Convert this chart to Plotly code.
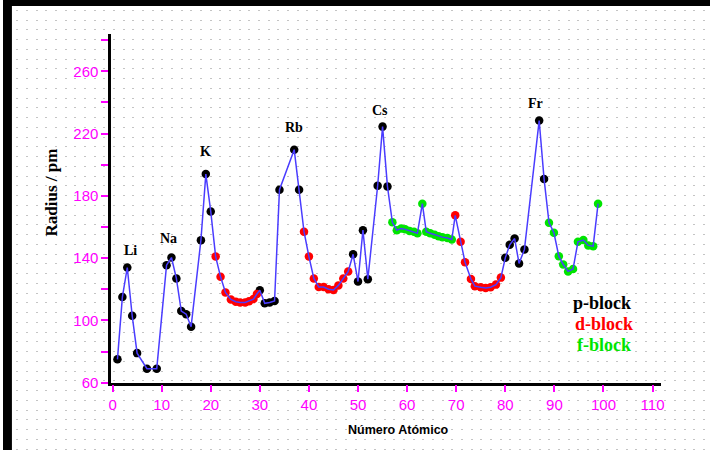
import plotly.graph_objects as go

W, H = 713, 450      # design size (reference picture)
FIG_H = 460          # figure height that fills the captured page

# ---- data ----
atomic_number = [1, 2, 3, 4, 5, 7, 9, 11, 12, 13, 14, 15, 16, 18, 19, 20,
                 21, 22, 23, 24.1, 25.1, 26, 27, 27.8, 28.7, 29.4,
                 30, 31, 32, 33, 34, 37, 38,
                 39, 40, 41, 42, 43, 44, 45, 46, 47, 48,
                 49, 50, 51, 52, 54, 55, 56,
                 57, 57.9, 58.8, 59.6, 60.5, 61.4, 62.1, 63.1, 63.9, 64.7, 65.6, 66.4, 67.2, 68.2, 69.1,
                 69.8, 70.9, 71.8, 73, 73.8, 75, 76, 77, 78.1, 79.1,
                 80, 80.9, 81.9, 82.8, 83.9, 86.9, 87.9,
                 88.9, 89.9, 90.9, 91.8, 92.8, 93.8, 94.8, 95.9, 96.9, 97.9, 98.9]
radius = [75, 115, 134, 103, 79, 69, 69, 135.5, 140.4, 127, 106, 104, 96, 151.5, 194, 170,
          141, 128, 118, 113.5, 112, 111.5, 111.5, 112.3, 113.7, 117,
          119.4, 111, 111.5, 112.5, 184, 209.7, 184,
          157, 141, 127, 121.5, 121.5, 120, 119.5, 122.5, 127, 131.5,
          142.5, 125, 158, 126.5, 186.5, 224.5, 186,
          163, 158, 159, 158.5, 157.5, 157, 156, 175, 157, 156, 155, 154, 153.5, 153, 152,
          167.5, 150.5, 137.4, 126.6, 122, 121.3, 120.8, 121.3, 123, 127.5,
          140.2, 148.6, 152.6, 136.6, 145.6, 228.4, 190.8,
          162.8, 156.3, 141.3, 135.9, 131.5, 133, 150.5, 151.6, 148.2, 147.7, 175]
block = (["p"] * 16 + ["d"] * 10 + ["p"] * 7 + ["d"] * 10 + ["p"] * 7
         + ["f"] * 15 + ["d"] * 10 + ["p"] * 7 + ["f"] * 11)

block_names = ["p-block", "d-block", "f-block"]
block_keys = ["p", "d", "f"]
block_colors = ["#000000", "#ff0000", "#00e400"]

element_labels = ["Li", "Na", "K", "Rb", "Cs", "Fr"]
element_label_z = [3, 12, 19, 37, 55, 86.9]

x_ticks = list(range(0, 111, 10))
y_ticks = list(range(60, 281, 20))
y_ticktext = [str(v) if (v - 60) % 40 == 0 else "" for v in y_ticks]

MAGENTA = "#ff00ff"
LINE_BLUE = "#4a3cff"


def py(v):
    """pixel row (from the top, design units) -> paper fraction"""
    return 1 - v / H


fig = go.Figure()

# empty trace to carry the dotted background grid axes
fig.add_trace(go.Scatter(x=[None], y=[None], xaxis="x", yaxis="y",
                         showlegend=False, hoverinfo="skip"))

for key, name, col in zip(block_keys, block_names, block_colors):
    xs = [a for a, b in zip(atomic_number, block) if b == key]
    ys = [r for r, b in zip(radius, block) if b == key]
    fig.add_trace(go.Scatter(x=xs, y=ys, mode="markers", name=name,
                             xaxis="x2", yaxis="y2",
                             marker=dict(color=col, size=8.5, line=dict(width=0)),
                             showlegend=False))

fig.add_trace(go.Scatter(x=atomic_number, y=radius, mode="lines",
                         xaxis="x2", yaxis="y2",
                         line=dict(color=LINE_BLUE, width=1.5),
                         showlegend=False, hoverinfo="skip"))

annotations = []
label_shift = {"Li": (3, 17), "Na": (-3, 19), "K": (0, 23), "Rb": (0, 22), "Cs": (-3, 16), "Fr": (-4, 17)}
for lab, z in zip(element_labels, element_label_z):
    r = radius[atomic_number.index(z)]
    dx, dy = label_shift[lab]
    annotations.append(dict(x=z, y=r, xref="x2", yref="y2", text="<b>%s</b>" % lab, showarrow=False,
                            xshift=dx, yshift=dy,
                            font=dict(family="Liberation Serif", size=14, color="black"),
                            xanchor="center", yanchor="middle"))

legend_pos = [(604.5, 302), (606.5, 323), (606, 343)]
for name, col, (px, pyv) in zip(block_names, block_colors, legend_pos):
    annotations.append(dict(x=px / W, y=py(pyv), xref="paper", yref="paper",
                            text="<b>%s</b>" % name, showarrow=False,
                            font=dict(family="Liberation Serif", size=18, color=col),
                            xanchor="center", yanchor="middle"))

annotations.append(dict(x=49 / W, y=py(192), xref="paper", yref="paper",
                        text="<b>Radius / pm</b>", showarrow=False, textangle=-90,
                        font=dict(family="Liberation Serif", size=17, color="black"),
                        xanchor="center", yanchor="middle"))
annotations.append(dict(x=399 / W, y=py(428), xref="paper", yref="paper",
                        text="<b>Número Atómico</b>", showarrow=False,
                        font=dict(family="Liberation Sans", size=12.5, color="black"),
                        xanchor="center", yanchor="middle"))

fig.update_layout(
    width=W, height=FIG_H, autosize=False,
    margin=dict(l=0, r=0, t=0, b=0, pad=0),
    paper_bgcolor="white", plot_bgcolor="rgba(0,0,0,0)",
    showlegend=False,
    xaxis=dict(domain=[0, 1], range=[0, W], showgrid=True, gridcolor="#c4c4c4",
               griddash="1px,8.75px", gridwidth=1.5, tick0=24.3, dtick=9.75,
               showticklabels=False, ticks="", zeroline=False, showline=False, fixedrange=True),
    yaxis=dict(domain=[0, 1], range=[0, H], showgrid=False, showticklabels=False,
               ticks="", zeroline=False, showline=False, fixedrange=True),
    xaxis2=dict(domain=[109 / W, 664 / W], anchor="y2", range=[-0.3, 111.8],
                tickvals=x_ticks, ticks="outside", ticklen=7, tickwidth=2, tickcolor=MAGENTA,
                showline=True, linecolor="black", linewidth=2.5, showgrid=False, zeroline=False,
                tickfont=dict(family="Liberation Sans", size=15, color=MAGENTA)),
    yaxis2=dict(domain=[py(381), py(34)], anchor="x2", range=[60, 283.9],
                tickvals=y_ticks, ticktext=y_ticktext, ticks="outside", ticklen=7, tickwidth=2,
                tickcolor=MAGENTA, showline=True, linecolor="black", linewidth=2.5,
                showgrid=False, zeroline=False,
                tickfont=dict(family="Liberation Sans", size=15, color=MAGENTA)),
    annotations=annotations,
    shapes=[
        dict(type="rect", xref="paper", yref="paper", x0=0, x1=1, y0=py(6), y1=1,
             fillcolor="black", line=dict(width=0), layer="above"),
        dict(type="rect", xref="paper", yref="paper", x0=0, x1=9 / W, y0=0, y1=1,
             fillcolor="black", line=dict(width=0), layer="above"),
    ],
)

fig.write_html("out.html", config={"responsive": False})
